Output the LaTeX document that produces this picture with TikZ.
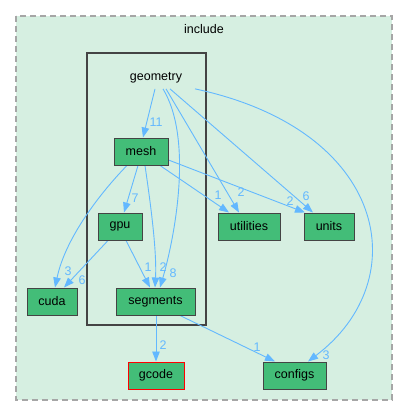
\documentclass[tikz,border=0pt]{standalone}
\usepackage{fontspec}
\setmainfont{Liberation Sans}
\usetikzlibrary{arrows.meta}
\pgfdeclarelayer{background}
\pgfsetlayers{background,main}
\definecolor{dirfill}{HTML}{43BD78}
\definecolor{clusterfill}{HTML}{D6EFE1}
\definecolor{edgeblue}{HTML}{63B8FF}
\definecolor{dirborder}{HTML}{444444}

\begin{document}
\begin{tikzpicture}[x=1pt,y=-1pt,
						font=\fontsize{12.5}{15}\selectfont,
						dirnode/.style={rectangle, draw=dirborder, line width=1pt, fill=dirfill, minimum height=27pt, inner sep=0pt},
						dep/.style={draw=edgeblue, line width=0.9pt, -{Triangle[length=10pt,width=7.5pt]}},
						cnt/.style={text=edgeblue, inner sep=0pt},
						]
						\useasboundingbox (0,0) rectangle (408,416);
						%Nodes
						\node           (include) 	at	(204,29) 		{include};
						\node           (geometry) 	at	(156,78) 		{geometry};
						\node[dirnode, minimum width=54pt]      (mesh) 	at 	(141,151.5)           {mesh};
						\node[dirnode, minimum width=44pt]      (gpu) 	at 	(120,226.5)           {gpu};
						\node[dirnode, minimum width=62pt]      (utilities) 	at 	(249,226.5)           {utilities};
						\node[dirnode, minimum width=50pt]      (units) 	at 	(329,226.5)           {units};
						\node[dirnode, minimum width=50pt]      (cuda) 	at 	(52,301.5)           {cuda};
						\node[dirnode, minimum width=79pt]      (segments) 	at 	(155.5,301.5)           {segments};
						\node[dirnode, minimum width=56pt, draw=red]      (gcode) 	at 	(156,375.5)           {gcode};
						\node[dirnode, minimum width=63pt]      (configs) 	at 	(294.5,375.5)           {configs};
						
						%Counts
						\node[cnt]      (c11) 	at 	(156,122)           {11};
						\node[cnt]      (c7) 	at 	(135,198)           {7};
						\node[cnt]      (c1a) 	at 	(218,195)           {1};
						\node[cnt]      (c2a) 	at 	(241,192)           {2};
						\node[cnt]      (c2b) 	at 	(290,201)           {2};
						\node[cnt]      (c6a) 	at 	(306,196)           {6};
						\node[cnt]      (c3a) 	at 	(68,271)           {3};
						\node[cnt]      (c6b) 	at 	(82,280)           {6};
						\node[cnt]      (c1b) 	at 	(148,267)           {1};
						\node[cnt]      (c2c) 	at 	(163,267)           {2};
						\node[cnt]      (c8) 	at 	(173,273)           {8};
						\node[cnt]      (c2d) 	at 	(163,345)           {2};
						\node[cnt]      (c1c) 	at 	(257,347)           {1};
						\node[cnt]      (c3b) 	at 	(326,355)           {3};
						
						\begin{pgfonlayer}{background}
						%Clusters
						\draw[fill=clusterfill, draw=gray!70, dash pattern=on 6pt off 4pt, line width=1.5pt] (16,16) rectangle (392,400);
						\draw[fill=clusterfill, draw=dirborder, line width=2pt] (87,53) rectangle (205.5,325);
						
						%Lines
						\draw[dep] ([xshift=-1pt,yshift=-2pt]geometry.south) -- ([xshift=2pt]mesh.north);
						\draw[dep] ([xshift=7pt,yshift=-2pt]geometry.south) .. controls (194,140) and (174,240) .. ([xshift=4.5pt]segments.north);
						\draw[dep] ([xshift=10pt,yshift=-2pt]geometry.south) -- ([xshift=-10pt]utilities.north);
						\draw[dep] ([xshift=14pt,yshift=-2pt]geometry.south) -- ([xshift=-16pt]units.north);
						\draw[dep] ([xshift=39pt,yshift=-2pt]geometry.south) .. controls (388,130) and (416,280) .. ([xshift=13.5pt]configs.north);
						
						\draw[dep] ([xshift=-3pt]mesh.south) -- ([xshift=4pt]gpu.north);
						\draw[dep] ([xshift=-14pt]mesh.south) .. controls (105,188) and (66,235) .. ([xshift=3pt]cuda.north);
						\draw[dep] ([xshift=4pt]mesh.south) .. controls (150,200) and (157,250) .. ([xshift=-0.5pt]segments.north);
						\draw[dep] ([xshift=19pt]mesh.south) -- ([xshift=-20pt]utilities.north);
						\draw[dep] ([yshift=-8.5pt]mesh.east) -- ([xshift=-24pt]units.north);
						
						\draw[dep] ([xshift=-12pt]gpu.south) -- ([xshift=12pt]cuda.north);
						\draw[dep] ([xshift=6pt]gpu.south) -- ([xshift=-5.5pt]segments.north);
						
						\draw[dep] ([xshift=0.5pt]segments.south) -- (gcode.north);
						\draw[dep] ([xshift=24.5pt]segments.south) -- ([xshift=-19.5pt]configs.north);
						\end{pgfonlayer}
					\end{tikzpicture}
\end{document}
